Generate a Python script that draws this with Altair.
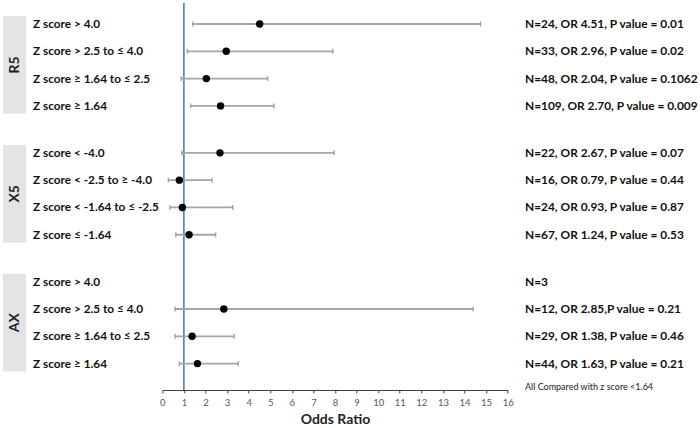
import altair as alt
import pandas as pd

# Forest plot of odds ratios by z-score band, grouped by panel
groups = ["R5", "X5", "AX"]
labels = [
    "Z score > 4.0", "Z score > 2.5 to ≤ 4.0", "Z score ≥ 1.64 to ≤ 2.5", "Z score ≥ 1.64",
    "Z score < -4.0", "Z score < -2.5  to ≥ -4.0", "Z score < -1.64  to ≤ -2.5", "Z score ≤ -1.64",
    "Z score > 4.0", "Z score > 2.5 to ≤ 4.0", "Z score ≥ 1.64 to ≤ 2.5", "Z score ≥ 1.64",
]
odds = [4.51, 2.96, 2.04, 2.70, 2.67, 0.79, 0.93, 1.24, None, 2.85, 1.38, 1.63]
lower = [1.41, 1.16, 0.87, 1.31, 0.90, 0.28, 0.36, 0.62, None, 0.59, 0.59, 0.79]
upper = [14.74, 7.90, 4.88, 5.17, 7.96, 2.31, 3.26, 2.47, None, 14.40, 3.33, 3.52]
stats = [
    "N=24, OR 4.51, P value = 0.01", "N=33, OR 2.96, P value = 0.02",
    "N=48, OR 2.04, P value = 0.1062", "N=109, OR 2.70, P value = 0.009",
    "N=22, OR 2.67, P value = 0.07", "N=16, OR 0.79, P value = 0.44",
    "N=24, OR 0.93, P value = 0.87", "N=67, OR 1.24, P value = 0.53",
    "N=3", "N=12, OR 2.85,P value = 0.21",
    "N=29, OR 1.38, P value = 0.46", "N=44, OR 1.63, P value = 0.21",
]
x_ticks = list(range(0, 17))
note = "All Compared with z score <1.64"

# Row positions: four rows per group with a gap between groups
GROUP_STEP = 4.72
pos = [g * GROUP_STEP + r for g in range(3) for r in range(4)]

df = pd.DataFrame({
    "pos": pos, "label": labels, "odds": odds, "lower": lower,
    "upper": upper, "stats": stats,
})
est = df.dropna(subset=["odds"])

gdf = pd.DataFrame({
    "group": groups,
    "top": [g * GROUP_STEP - 0.29 for g in range(3)],
    "bottom": [g * GROUP_STEP + 3.29 for g in range(3)],
    "mid": [g * GROUP_STEP + 1.5 for g in range(3)],
})

W, H = 345.4, 390
ROW_PX = 27.3
y_dom = [-24 / ROW_PX, (H - 24) / ROW_PX]
yscale = alt.Scale(domain=y_dom, reverse=True, nice=False, zero=False)
xscale = alt.Scale(domain=[0, 16], nice=False, zero=False)
Y = alt.Y("pos:Q", scale=yscale, axis=None)
FONT = "Lato"

x_axis = alt.Axis(
    values=x_ticks, title="Odds Ratio", grid=False,
    labelOverlap=False, labelFlush=False,
    domainColor="#404040", domainWidth=1.2, tickColor="#404040", tickSize=3,
    labelColor="#595959", labelFont=FONT, labelFontSize=9.5, labelPadding=4,
    titleFont=FONT, titleFontSize=14, titleFontWeight="bold", titleColor="#222222",
    titlePadding=6,
)


def X(field):
    return alt.X(field, scale=xscale, axis=x_axis)


base = alt.Chart(df)

boxes = alt.Chart(gdf).mark_rect(color="#e4e4e4").encode(
    x=alt.value(3 - 162.3), x2=alt.value(26 - 162.3),
    y=alt.Y("top:Q", scale=yscale, axis=None), y2="bottom:Q",
)
group_text = alt.Chart(gdf).mark_text(
    angle=270, font=FONT, fontWeight="bold", fontSize=14, color="#222222",
    baseline="middle", align="center",
).encode(x=alt.value(15 - 162.3), y=alt.Y("mid:Q", scale=yscale, axis=None), text="group:N")

row_text = base.mark_text(
    font=FONT, fontWeight="bold", fontSize=11.8, color="#111111", align="left", baseline="middle",
).encode(x=alt.value(33 - 162.3), y=Y, text="label:N")

stat_text = base.mark_text(
    font=FONT, fontWeight="bold", fontSize=11.9, color="#111111", align="left", baseline="middle",
).encode(x=alt.value(525 - 162.3), y=Y, text="stats:N")

note_text = alt.Chart(pd.DataFrame({"t": [note]})).mark_text(
    font=FONT, fontSize=9, color="#222222", align="left", baseline="middle",
).encode(x=alt.value(525 - 162.3), y=alt.value(387), text="t:N")

ref_line = alt.Chart(pd.DataFrame({"v": [1]})).mark_rule(color="#4472C4", strokeWidth=1.5).encode(
    x=X("v:Q"), y=alt.value(3), y2=alt.value(H),
)

bars = alt.Chart(est).mark_rule(color="#a6a6a6", strokeWidth=1.8).encode(
    x=X("lower:Q"), x2="upper:Q", y=Y,
)
caps_lo = alt.Chart(est).mark_tick(color="#8c8c8c", thickness=1.5, size=5, orient="vertical").encode(
    x=X("lower:Q"), y=Y,
)
caps_hi = alt.Chart(est).mark_tick(color="#8c8c8c", thickness=1.5, size=5, orient="vertical").encode(
    x=X("upper:Q"), y=Y,
)
points = alt.Chart(est).mark_circle(color="black", opacity=1, size=55).encode(
    x=X("odds:Q"), y=Y,
)

chart = alt.layer(
    boxes, group_text, row_text, stat_text, note_text, ref_line, bars, caps_lo, caps_hi, points,
).properties(
    width=W, height=H,
    autosize=alt.AutoSizeParams(type="none"),
    padding={"left": 162.3, "top": 0, "right": 700 - 162.3 - W, "bottom": 428 - H},
    background="white",
).configure_view(stroke=None)

chart.save("out.html", embed_options={"renderer": "svg", "actions": False})
